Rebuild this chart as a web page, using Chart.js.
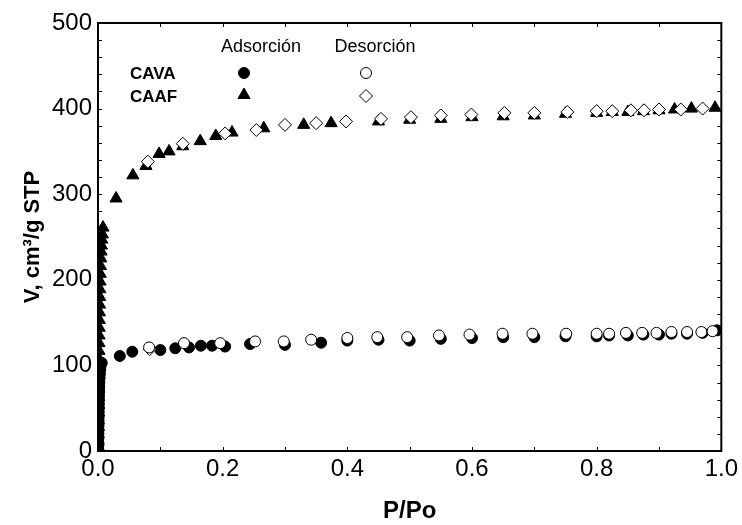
<!DOCTYPE html>
<html lang="es">
<head>
  <meta charset="UTF-8">
  <title>Isotermas CAVA / CAAF</title>
  <script src="https://cdn.jsdelivr.net/npm/chart.js"></script>
  <style>
    body { margin: 0; background: #fff; }
  </style>
</head>
<body>
  <canvas id="chart0" width="742" height="525"></canvas>

  <script>
    /* Values. */
    const cavaAdsX = [0.0003, 0.0004, 0.0005, 0.0006, 0.0007, 0.0008, 0.0009, 0.001, 0.0011, 0.0012, 0.0013,
      0.0014, 0.0015, 0.0016, 0.0018, 0.002, 0.0022, 0.0025, 0.003, 0.0035, 0.004, 0.006,
      0.035, 0.055, 0.1, 0.124, 0.146, 0.165, 0.183, 0.204, 0.244, 0.3, 0.358, 0.4, 0.45, 0.5, 0.55, 0.6, 0.65,
      0.7, 0.75, 0.8, 0.82, 0.85, 0.875, 0.9, 0.92, 0.945, 0.97, 0.993]
    const cavaAdsY = [2, 6, 10, 15, 20, 25, 30, 35, 40, 45, 50,
      55, 60, 65, 70, 75, 80, 85, 90, 95, 99, 103,
      111, 116, 118, 120, 121, 123, 123, 122, 125, 124, 126.5, 129, 130, 129, 131, 132, 133,
      133, 134, 134, 135, 135, 136, 136, 137, 137, 138, 141]

    const cavaDesX = [0.082, 0.138, 0.196, 0.252, 0.298, 0.342, 0.4, 0.448, 0.496, 0.547, 0.596, 0.649,
      0.697, 0.751, 0.8, 0.82, 0.847, 0.873, 0.896, 0.92, 0.945, 0.968, 0.986]
    const cavaDesY = [121, 126, 126, 128, 128, 130, 132, 133, 133, 135, 136, 137,
      137, 137, 137, 137, 138, 138, 138, 139, 139, 139, 140]

    const caafAdsX = [0.0003, 0.0004, 0.0005, 0.0006, 0.0007, 0.0008, 0.0009, 0.001, 0.0011, 0.0012, 0.0013,
      0.0014, 0.0015, 0.0016, 0.0017, 0.0018, 0.002, 0.0022, 0.0024, 0.0026, 0.0028, 0.003, 0.0033, 0.0036,
      0.004, 0.0045, 0.005, 0.0055, 0.006, 0.007,
      0.008, 0.029, 0.056, 0.077, 0.098, 0.114, 0.136, 0.164,
      0.189, 0.215, 0.266, 0.33, 0.374, 0.45, 0.5, 0.55, 0.6, 0.65, 0.7, 0.75, 0.8, 0.825, 0.85, 0.875, 0.9,
      0.925, 0.952, 0.99]
    const caafAdsY = [5, 12, 20, 28, 36, 45, 54, 63, 72, 81, 90,
      99, 108, 117, 126, 135, 144, 153, 162, 171, 180, 189, 198, 207,
      216, 225, 233, 240, 247, 253,
      261, 295, 322, 333, 347, 350, 356, 362,
      368, 372, 377, 381, 383, 385, 387, 388, 390, 391, 392, 394, 395, 396, 396, 397, 398,
      399, 400, 401]

    const caafDesX = [0.083, 0.08, 0.136, 0.204, 0.254, 0.3, 0.35, 0.398, 0.454, 0.502, 0.55, 0.599,
      0.652, 0.7, 0.753, 0.8, 0.825, 0.855, 0.876, 0.9, 0.935, 0.97]
    const caafDesY = [119, 338, 359, 371, 375, 381, 383, 385, 388, 390, 392, 393,
      395, 395, 396, 397, 397, 398, 398, 399, 399, 400]

    const xTickLabels = ["0.0", "0.2", "0.4", "0.6", "0.8", "1.0"]
    const yTickLabels = ["0", "100", "200", "300", "400", "500"]

    const FONT = "'Liberation Sans', Arial, sans-serif"

    const toPoints = (xs, ys) => xs.map((x, i) => ({ x: x, y: ys[i] }))

    /* Frame round the plot and inward ticks on all four sides. */
    const framePlugin = {
      id: "frame",
      beforeDatasetsDraw(chart) {
        const ctx = chart.ctx
        const a = chart.chartArea
        const xs = chart.scales.x
        const ys = chart.scales.y
        ctx.save()
        ctx.strokeStyle = "#000"
        ctx.lineWidth = 1
        xs.ticks.forEach(t => {
          const px = Math.round(xs.getPixelForValue(t.value)) + 0.5
          ctx.beginPath()
          ctx.moveTo(px, a.bottom); ctx.lineTo(px, a.bottom - 4)
          ctx.moveTo(px, a.top); ctx.lineTo(px, a.top + 4)
          ctx.stroke()
        })
        ys.ticks.forEach(t => {
          const py = Math.round(ys.getPixelForValue(t.value)) + 0.5
          ctx.beginPath()
          ctx.moveTo(a.left, py); ctx.lineTo(a.left + 4, py)
          ctx.moveTo(a.right, py); ctx.lineTo(a.right - 4, py)
          ctx.stroke()
        })
        ctx.lineWidth = 2
        ctx.strokeRect(a.left, a.top, a.right - a.left, a.bottom - a.top)
        ctx.restore()
      }
    }

    /* Small table legend in the upper left corner. */
    const legendPlugin = {
      id: "tableLegend",
      afterDraw(chart) {
        const ctx = chart.ctx
        const a = chart.chartArea
        const colA = a.left + 146
        const colD = a.left + 268
        const row1 = a.top + 50
        const row2 = a.top + 73
        ctx.save()
        ctx.fillStyle = "#000"
        ctx.textBaseline = "middle"
        ctx.textAlign = "center"
        ctx.font = "18px " + FONT
        ctx.fillText("Adsorción", colA + 17, a.top + 24)
        ctx.fillText("Desorción", colD + 9, a.top + 24)
        ctx.textAlign = "left"
        ctx.font = "bold 17px " + FONT
        ctx.fillText("CAVA", a.left + 32, row1 + 1)
        ctx.fillText("CAAF", a.left + 32, row2 + 1)
        const ds = chart.data.datasets
        const draw = (d, x, y) => {
          ctx.fillStyle = d.backgroundColor
          ctx.strokeStyle = d.borderColor
          ctx.lineWidth = d.borderWidth
          Chart.helpers.drawPoint(ctx, { pointStyle: d.pointStyle, radius: d.pointRadius, borderWidth: d.borderWidth }, x, y)
        }
        draw(ds[0], colA, row1)
        draw(ds[1], colD, row1)
        draw(ds[2], colA, row2 - 1)
        draw(ds[3], colD, row2)
        ctx.restore()
      }
    }

    const ctx0 = document.getElementById("chart0").getContext("2d")
    const myChart0 = new Chart(ctx0, {
      type: "scatter",
      data: {
        datasets: [
          {
            label: "CAVA Adsorción",
            data: toPoints(cavaAdsX, cavaAdsY),
            pointStyle: "circle",
            pointRadius: 5.5,
            backgroundColor: "#000",
            borderColor: "#000",
            borderWidth: 1,
            order: 2
          },
          {
            label: "CAVA Desorción",
            data: toPoints(cavaDesX, cavaDesY),
            pointStyle: "circle",
            pointRadius: 5.5,
            backgroundColor: "#fff",
            borderColor: "#000",
            borderWidth: 1,
            order: 1
          },
          {
            label: "CAAF Adsorción",
            data: toPoints(caafAdsX, caafAdsY),
            pointStyle: "triangle",
            pointRadius: 7,
            backgroundColor: "#000",
            borderColor: "#000",
            borderWidth: 1,
            order: 2
          },
          {
            label: "CAAF Desorción",
            data: toPoints(caafDesX, caafDesY),
            pointStyle: "rectRot",
            pointRadius: 6.5,
            backgroundColor: "#fff",
            borderColor: "#000",
            borderWidth: 1,
            order: 1
          }
        ]
      },
      options: {
        responsive: false,
        animation: false,
        layout: { padding: { top: 23, right: 17, left: 0, bottom: 0 } },
        plugins: {
          legend: { display: false },
          tooltip: { enabled: false }
        },
        elements: { point: { hoverRadius: 6 } },
        scales: {
          x: {
            type: "linear",
            min: 0,
            max: 1,
            grid: { display: false, drawTicks: false },
            border: { display: false },
            ticks: {
              stepSize: 0.1,
              autoSkip: false,
              maxRotation: 0,
              padding: 4,
              color: "#000",
              font: { family: FONT, size: 24 },
              callback: (v, i) => (i % 2 === 0 ? xTickLabels[i / 2] : "")
            },
            title: {
              display: true,
              text: "P/Po",
              color: "#000",
              font: { family: FONT, size: 24, weight: "bold" },
              padding: { top: 0, bottom: -1 }
            },
            afterFit: scale => { scale.height = 74 }
          },
          y: {
            type: "linear",
            min: 0,
            max: 500,
            grid: { display: false, drawTicks: false },
            border: { display: false },
            ticks: {
              stepSize: 20,
              autoSkip: false,
              padding: 6,
              color: "#000",
              font: { family: FONT, size: 24 },
              callback: (v, i) => (i % 5 === 0 ? yTickLabels[i / 5] : "")
            },
            title: {
              display: true,
              text: "V, cm³/g STP",
              color: "#000",
              font: { family: FONT, size: 22, weight: "bold" },
              padding: { top: 20, bottom: 0 }
            },
            afterFit: scale => { scale.width = 98 }
          }
        }
      },
      plugins: [framePlugin, legendPlugin]
    })
  </script>
</body>
</html>
